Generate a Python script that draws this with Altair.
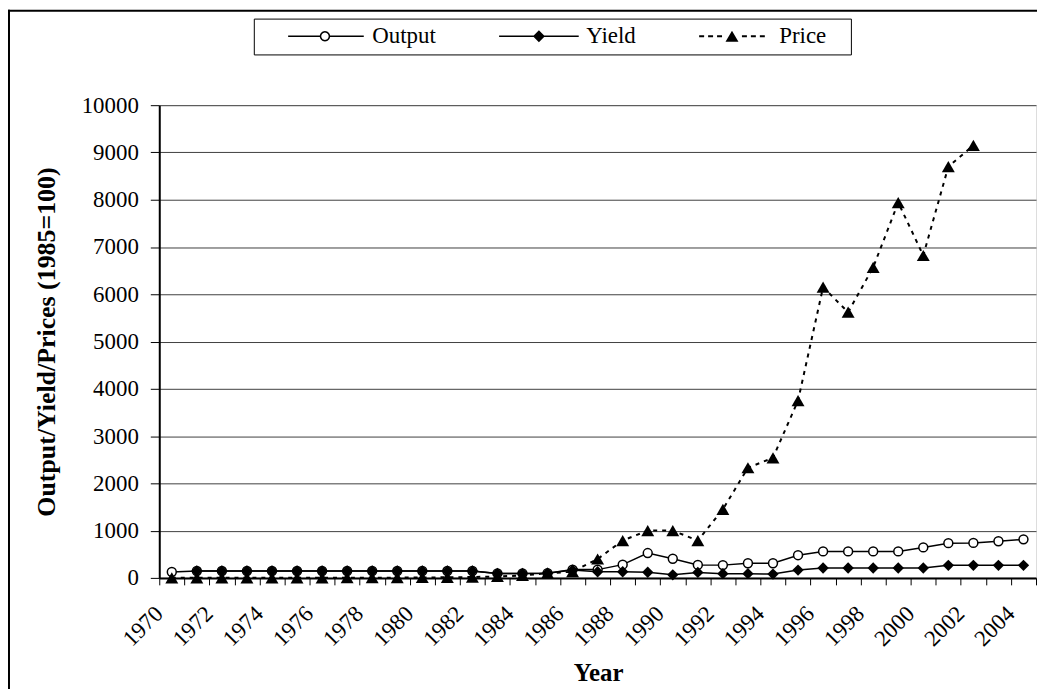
import math
import altair as alt
import pandas as pd

# ---------------- data ----------------
years = [1970, 1971, 1972, 1973, 1974, 1975, 1976, 1977, 1978, 1979,
         1980, 1981, 1982, 1983, 1984, 1985, 1986, 1987, 1988, 1989,
         1990, 1991, 1992, 1993, 1994, 1995, 1996, 1997, 1998, 1999,
         2000, 2001, 2002, 2003, 2004]

output = [125, 145, 145, 145, 145, 145, 145, 145, 145, 145,
          145, 145, 145, 95, 95, 100, 175, 175, 280, 525,
          405, 275, 270, 310, 310, 480, 560, 560, 560, 560,
          645, 735, 740, 775, 815]

yield_ = [None, 145, 145, 145, 145, 145, 145, 145, 145, 145,
          145, 145, 145, 95, 95, 100, 165, 130, 130, 120,
          65, 115, 90, 90, 80, 165, 210, 210, 210, 210,
          210, 265, 265, 265, 265]

price = [1, 1, 1, 1, 1, 2, 2, 3, 4, 5,
         8, 12, 18, 30, 50, 100, 130, 400, 790, 1000,
         1000, 790, 1450, 2330, 2540, 3750, 6150, 5620, 6570, 7940,
         6820, 8700, 9150, None, None]

series_names = ["Output", "Yield", "Price"]
y_ticks = [0, 1000, 2000, 3000, 4000, 5000, 6000, 7000, 8000, 9000, 10000]

rows = []
for name, vals in zip(series_names, [output, yield_, price]):
    for yr, v in zip(years, vals):
        rows.append({"year": yr, "series": name, "value": v})
df = pd.DataFrame(rows)

FONT = "Liberation Serif"

# ---------------- legend symbols (line + marker samples) ----------------
U = 6.0  # px per unit for symbolSize 144


def P(x, y):
    return f"{x / U:.4f},{y / U:.4f}"


def rect(x1, x2, h=0.75):
    return f"M{P(x1, -h)}L{P(x2, -h)}L{P(x2, h)}L{P(x1, h)}Z"


def ring(r_out, r_in, n=28):
    outer = [P(r_out * math.cos(2 * math.pi * k / n), r_out * math.sin(2 * math.pi * k / n)) for k in range(n)]
    inner = [P(r_in * math.cos(-2 * math.pi * k / n), r_in * math.sin(-2 * math.pi * k / n)) for k in range(n)]
    return "M" + "L".join(outer) + "Z" + "M" + "L".join(inner) + "Z"


path_out = rect(-37, -5) + rect(5, 39) + ring(5.2, 3.7)
path_yld = rect(-40, 40) + f"M{P(0, -6)}L{P(6, 0)}L{P(0, 6)}L{P(-6, 0)}Z"
dashes = "".join(rect(a, a + 5, 1.0) for a in (-33, -24, -15, 10, 19, 28))
# zero-area spacer at the far right keeps the legend frame wide
path_prc = dashes + f"M{P(0, -5.6)}L{P(6.5, 5.6)}L{P(-6.5, 5.6)}Z" + f"M{P(112, 0)}L{P(113, 0)}L{P(112, 0)}Z"

# ---------------- encodings ----------------
X = alt.X(
    "year:O",
    bandPosition=0.5,
    scale=alt.Scale(type="band", paddingInner=0, paddingOuter=0),
    axis=alt.Axis(
        title="Year",
        titleFont=FONT, titleFontSize=25, titleFontWeight="bold", titleColor="black",
        titleX=441, titleY=103, titleBaseline="alphabetic", titleAlign="center",
        labelFont=FONT, labelFontSize=23, labelColor="black",
        labelAngle=-45, labelAlign="right", labelBaseline="middle",
        labelOffset=-13, labelPadding=25, labelOverlap=False,
        labelExpr="datum.value % 2 == 0 ? datum.label : ''",
        tickBand="extent", tickSize=7, tickColor="black", tickWidth=1,
        domainColor="black", domainWidth=2, grid=False,
    ),
)
Y = alt.Y(
    "value:Q",
    scale=alt.Scale(domain=[0, 10000], nice=False),
    axis=alt.Axis(
        title="Output/Yield/Prices (1985=100)",
        titleFont=FONT, titleFontSize=26, titleFontWeight="bold", titleColor="black",
        titleAngle=-90, titleX=-113, titleY=237.5, titleAlign="center", titleBaseline="middle",
        values=y_ticks, format="d",
        labelFont=FONT, labelFontSize=23, labelColor="black", labelPadding=12,
        tickSize=9, tickColor="black", tickWidth=1,
        domainColor="black", domainWidth=2,
        grid=True, gridColor="#404040", gridWidth=1,
    ),
)

base = alt.Chart(df)


def sel(name):
    return base.transform_filter(alt.datum.series == name)


out_line = sel("Output").mark_line(color="black", strokeWidth=1.5).encode(x=X, y=Y)
out_pts = sel("Output").mark_point(shape="circle", size=80, filled=True, fill="white",
                                   stroke="black", strokeWidth=1.5, opacity=1).encode(x=X, y=Y)
yld_line = sel("Yield").mark_line(color="black", strokeWidth=1.5).encode(x=X, y=Y)
yld_pts = sel("Yield").mark_point(shape="diamond", size=130, filled=True, color="black",
                                  opacity=1).encode(x=X, y=Y)
prc_line = sel("Price").mark_line(color="black", strokeWidth=2, strokeDash=[4, 5]).encode(x=X, y=Y)
prc_pts = sel("Price").mark_point(shape="triangle-up", size=169, filled=True, color="black",
                                  opacity=1).encode(x=X, y=Y)

legend_layer = base.mark_point(filled=True, color="black", opacity=0, size=10).encode(
    x=X, y=Y,
    shape=alt.Shape(
        "series:N",
        scale=alt.Scale(domain=series_names, range=[path_out, path_yld, path_prc]),
        legend=alt.Legend(
            title="\u00a0", titleOrient="left", titleFontSize=4, titlePadding=54,
            orient="none", legendX=95, legendY=-87, direction="horizontal",
            labelFont=FONT, labelFontSize=23, labelColor="black", labelLimit=0,
            symbolSize=144, symbolStrokeWidth=0, symbolOpacity=1, symbolFillColor="black",
            strokeColor="black", fillColor="white", padding=6,
            columnPadding=63, labelOffset=36,
        ),
    ),
)

frame_df = pd.DataFrame({"k": [0]})
frame_left = alt.Chart(frame_df).mark_rule(color="black", strokeWidth=2).encode(
    x=alt.value(-151), y=alt.value(-96), y2=alt.value(590))
frame_top = alt.Chart(frame_df).mark_rule(color="black", strokeWidth=2).encode(
    x=alt.value(-152), x2=alt.value(900), y=alt.value(-95))

chart = alt.layer(
    frame_left, frame_top,
    out_line, out_pts, yld_line, yld_pts, prc_line, prc_pts,
    legend_layer,
).properties(
    width=881, height=475,
    padding={"left": 152, "top": 96, "right": 1, "bottom": 110},
    autosize=alt.AutoSizeParams(type="none"),
    background="white",
).configure_view(stroke="black", strokeWidth=1.5).configure(font=FONT).configure_legend(labelFont=FONT)

chart.save("out.html", embed_options={"renderer": "svg", "actions": False})
